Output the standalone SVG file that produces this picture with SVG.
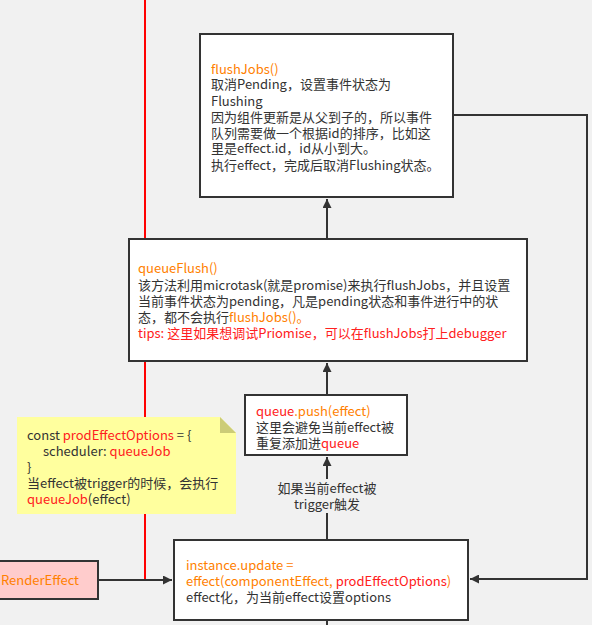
<svg xmlns="http://www.w3.org/2000/svg" width="592" height="625" viewBox="0 0 592 625">
<defs>
<marker id="arr" viewBox="0 0 10 10" refX="10" refY="5" markerWidth="5" markerHeight="4.5" orient="auto" markerUnits="strokeWidth">
<path d="M0,0 L10,5 L0,10 Z" fill="#333"/>
</marker>
<style>
text{font-family:"Noto Sans CJK SC","Liberation Sans",sans-serif;font-size:13px;fill:#333}
.o{fill:#ff8000}
.r{fill:#ff2020}
.box{fill:#fff;stroke:#333;stroke-width:2}
.ln{fill:none;stroke:#333;stroke-width:2}
</style>
</defs>
<rect x="0" y="0" width="592" height="625" fill="#f1f1f1"/>
<line x1="145" y1="0" x2="145" y2="580" stroke="#ff0000" stroke-width="2"/>
<g id="connectors">
<line class="ln" x1="327" y1="239" x2="327" y2="199" marker-end="url(#arr)"/>
<line class="ln" x1="327" y1="395" x2="327" y2="363" marker-end="url(#arr)"/>
<line class="ln" x1="327" y1="540" x2="327" y2="457" marker-end="url(#arr)"/>
<line class="ln" x1="327" y1="620" x2="327" y2="625"/>
<polyline class="ln" points="453,115 587,115 587,579 470,579" marker-end="url(#arr)"/>
<line class="ln" x1="98" y1="580" x2="172" y2="580" marker-end="url(#arr)"/>
<g id="trigger-label">
<rect x="272" y="479" width="110" height="34" fill="#f1f1f1"/>
<text x="327" y="492.5" text-anchor="middle">如果当前effect被</text>
<text x="327" y="508.5" text-anchor="middle">trigger触发</text>
</g>
</g>
<g id="flushJobs">
<rect class="box" x="200" y="34" width="253" height="163"/>
<text x="211" y="73.5" class="o">flushJobs()</text>
<text x="211" y="89">取消Pending，设置事件状态为</text>
<text x="211" y="105.5">Flushing</text>
<text x="211" y="121.5">因为组件更新是从父到子的，所以事件</text>
<text x="211" y="137.5">队列需要做一个根据id的排序，比如这</text>
<text x="211" y="153">里是effect.id，id从小到大。</text>
<text x="211" y="169.5">执行effect，完成后取消Flushing状态。</text>
</g>
<g id="queueFlush">
<rect class="box" x="129" y="239" width="398" height="122"/>
<text x="138" y="272.5" class="o">queueFlush()</text>
<text x="138" y="290">该方法利用microtask(就是promise)来执行flushJobs，并且设置</text>
<text x="138" y="306">当前事件状态为pending，凡是pending状态和事件进行中的状</text>
<text x="138" y="322">态，都不会执行<tspan class="o">flushJobs()。</tspan></text>
<text x="138" y="337.5" class="r">tips: 这里如果想调试Priomise，可以在flushJobs打上debugger</text>
</g>
<g id="queuePush">
<rect class="box" x="245" y="395" width="162" height="60"/>
<text x="256" y="415.5"><tspan class="r">queue</tspan><tspan class="o">.push(effect)</tspan></text>
<text x="256" y="431.5">这里会避免当前effect被</text>
<text x="256" y="447.5">重复添加进<tspan class="r">queue</tspan></text>
</g>
<g id="note">
<path d="M17,417 L220,417 L236,433 L236,514 L17,514 Z" fill="#ffff9e"/>
<path d="M220,417 L236,433 L220,433 Z" fill="#cccc77"/>
<text x="27" y="439.5">const <tspan class="r">prodEffectOptions</tspan> = {</text>
<text x="43" y="455.5">scheduler: <tspan class="r">queueJob</tspan></text>
<text x="27" y="471.5">}</text>
<text x="27" y="487.5">当effect被trigger的时候，会执行</text>
<text x="27" y="503.5"><tspan class="r">queueJob</tspan>(effect)</text>
</g>
<g id="renderEffect">
<rect x="-10" y="561" width="108" height="38" fill="#ffcccc" stroke="#333" stroke-width="2"/>
<text x="1" y="585" class="o">RenderEffect</text>
</g>
<g id="instanceUpdate">
<rect class="box" x="174" y="540" width="294" height="80"/>
<text x="186" y="569.5" class="o">instance.update =</text>
<text x="186" y="585.5" class="o">effect(componentEffect, <tspan class="r">prodEffectOptions</tspan>)</text>
<text x="186" y="601.5">effect化，为当前effect设置options</text>
</g>
</svg>
